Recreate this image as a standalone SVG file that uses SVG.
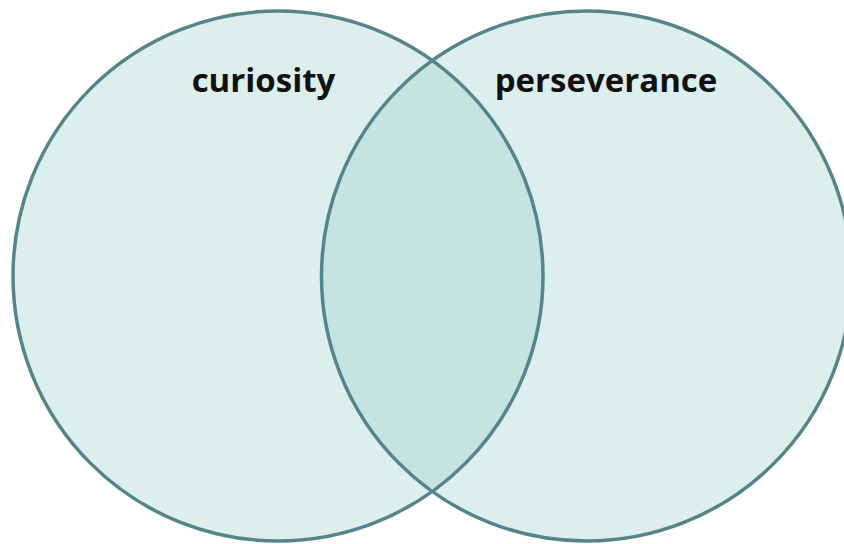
<svg xmlns="http://www.w3.org/2000/svg" width="844" height="544" viewBox="0 0 844 544">
<style>
.fill{fill:#8ec9bf;fill-opacity:0.3;stroke:none}
.edge{fill:none;stroke:#56848b;stroke-width:3.5}
.lbl{font-family:"Open Sans","Noto Sans",sans-serif;font-weight:bold;font-size:33px;fill:#111;text-anchor:middle}
</style>
<rect width="844" height="544" fill="#ffffff"/>
<g id="curiosity">
<circle class="fill" cx="278" cy="276" r="265"/>
</g>
<g id="perseverance">
<circle class="fill" cx="586.5" cy="276" r="265"/>
</g>
<g id="connectors">
<circle class="edge" cx="278" cy="276" r="265"/>
<circle class="edge" cx="586.5" cy="276" r="265"/>
</g>
<g id="labels">
<text class="lbl" x="263.5" y="92">curiosity</text>
<text class="lbl" x="606" y="92">perseverance</text>
</g>
</svg>
